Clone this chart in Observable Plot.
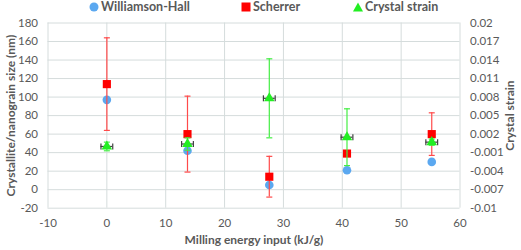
<!DOCTYPE html>
<html><head><meta charset="utf-8">
<script src="https://cdn.jsdelivr.net/npm/d3@7"></script>
<script src="https://cdn.jsdelivr.net/npm/@observablehq/plot@0.6"></script>
<style>
body{margin:0;background:#fff;font-family:Lato,sans-serif;}
#legend{position:relative;height:14px;font:bold 12.5px Lato,sans-serif;color:#595959;}
#legend span.item{position:absolute;top:0;display:flex;align-items:center;gap:2px;white-space:nowrap;line-height:14px;height:14px;}
#legend svg{display:block;}
#chart svg{display:block;}
</style></head><body>
<div id="legend"></div><div id="chart"></div>
<script>
const energy = [0, 13.7, 27.6, 40.8, 55.2];
const energyErr = [1, 1, 1, 1, 1];
const whSize = [97, 42, 5, 21, 30];
const scherrerSize = [114, 60, 14, 39, 60];
const scherrerErr = [50, 41, 22, 0, 23];
const strain = [0.0000, 0.0004, 0.0078, 0.0015, 0.0007];
const strainErr = [0.0007, 0.001, 0.0064, 0.0046, 0.0005];
const xTicks = [-10, 0, 10, 20, 30, 40, 50, 60];
const yTicks = [-20, 0, 20, 40, 60, 80, 100, 120, 140, 160, 180];
const strainTicks = ["-0.01", "-0.007", "-0.004", "-0.001", "0.002", "0.005", "0.008", "0.011", "0.014", "0.017", "0.02"];
const seriesNames = ["Williamson-Hall", "Scherrer", "Crystal strain"];
const seriesColors = ["#5ba8f0", "#ff0000", "#22ee22"];
const errColors = ["#5ba8f0", "#ff4a4a", "#44ee44"];
const xErrColor = "#404040";
const xTitle = "Milling energy input (kJ/g)";
const yTitle = "Crystallite/nanograin size (nm)";
const y2Title = "Crystal strain";

// secondary axis: strain domain [-0.01, 0.02] shares the size domain [-20, 180]
const s2y = s => (s + 0.01) / 0.03 * 200 - 20;

const data = energy.map((e, i) => ({
  e, exlo: e - energyErr[i], exhi: e + energyErr[i],
  wh: whSize[i],
  sc: scherrerSize[i], sclo: scherrerSize[i] - scherrerErr[i], schi: scherrerSize[i] + scherrerErr[i],
  st: s2y(strain[i]), stlo: s2y(strain[i] - strainErr[i]), sthi: s2y(strain[i] + strainErr[i])
}));

const hcap = {draw(ctx, size){ const w = Math.sqrt(size) / 2; ctx.moveTo(-w, 0); ctx.lineTo(w, 0); }};
const vcap = {draw(ctx, size){ const w = Math.sqrt(size) / 2; ctx.moveTo(0, -w); ctx.lineTo(0, w); }};
const capR = hw => hw * 2 / Math.sqrt(Math.PI);

// legend
const legend = document.getElementById("legend");
const legendLeft = [89, 241, 353];
const shapes = [
  '<circle cx="5" cy="5" r="4.5" fill="C"/>',
  '<rect x="0.5" y="0.5" width="9" height="9" fill="C"/>',
  '<path d="M5,0.5 L10,9.5 L0,9.5 Z" fill="C"/>'
];
seriesNames.forEach((n, i) => {
  const s = document.createElement("span");
  s.className = "item";
  s.style.left = legendLeft[i] + "px";
  s.innerHTML = `<svg width="10" height="10">${shapes[i].replace("C", seriesColors[i])}</svg><span>${n}</span>`;
  legend.appendChild(s);
});

const txt = {fill: "#595959", fontSize: 12, fontWeight: "bold", fontFamily: "Lato", textAnchor: "middle"};
const fmt = d => String(d);

const chart = Plot.plot({
  width: 521, height: 236,
  marginTop: 8.5, marginBottom: 42.3, marginLeft: 47.5, marginRight: 61.5,
  style: {fontFamily: "Lato", fontSize: "11.5px", color: "#595959", background: "#fff"},
  x: {domain: [-10, 60]},
  y: {domain: [-20, 180]},
  marks: [
    Plot.gridX(xTicks, {stroke: "#d5dcdc", strokeOpacity: 1}),
    Plot.gridY(yTicks, {stroke: "#d5dcdc", strokeOpacity: 1}),
    Plot.axisX({ticks: xTicks, tickSize: 0, tickPadding: 11, label: null, fill: "#595959", tickFormat: fmt}),
    Plot.axisY({ticks: yTicks, tickSize: 0, tickPadding: 10, label: null, fill: "#595959", tickFormat: fmt}),
    Plot.axisY({anchor: "right", ticks: yTicks, tickSize: 0, tickPadding: 10, label: null, fill: "#595959",
      tickFormat: d => strainTicks[yTicks.indexOf(d)]}),
    Plot.text([xTitle], {frameAnchor: "bottom", dy: 36, text: d => d, ...txt}),
    Plot.text([yTitle], {frameAnchor: "left", dx: -37, rotate: -90, text: d => d, ...txt}),
    Plot.text([y2Title], {frameAnchor: "right", dx: 50, rotate: -90, text: d => d, ...txt}),
    // Williamson-Hall
    Plot.dot(data, {x: "e", y: "wh", r: 4.3, fill: seriesColors[0], symbol: "circle"}),
    // Scherrer
    Plot.ruleX(data, {x: "e", y1: "sclo", y2: "schi", stroke: errColors[1], strokeWidth: 1.2}),
    Plot.dot(data, {x: "e", y: "schi", symbol: hcap, r: capR(3), stroke: errColors[1], strokeWidth: 1.2}),
    Plot.dot(data, {x: "e", y: "sclo", symbol: hcap, r: capR(3), stroke: errColors[1], strokeWidth: 1.2}),
    Plot.dot(data, {x: "e", y: "sc", r: 4.6, fill: seriesColors[1], symbol: "square"}),
    // Crystal strain
    Plot.ruleX(data, {x: "e", y1: "stlo", y2: "sthi", stroke: errColors[2], strokeWidth: 1.2}),
    Plot.dot(data, {x: "e", y: "sthi", symbol: hcap, r: capR(3), stroke: errColors[2], strokeWidth: 1.2}),
    Plot.dot(data, {x: "e", y: "stlo", symbol: hcap, r: capR(3), stroke: errColors[2], strokeWidth: 1.2}),
    Plot.ruleY(data, {y: "st", x1: "exlo", x2: "exhi", stroke: xErrColor, strokeWidth: 1.2}),
    Plot.dot(data, {x: "exlo", y: "st", symbol: vcap, r: capR(3), stroke: xErrColor, strokeWidth: 1.2}),
    Plot.dot(data, {x: "exhi", y: "st", symbol: vcap, r: capR(3), stroke: xErrColor, strokeWidth: 1.2}),
    Plot.dot(data, {x: "e", y: "st", r: 3.9, fill: seriesColors[2], symbol: "triangle"})
  ]
});
document.getElementById("chart").appendChild(chart);
</script>
</body></html>
